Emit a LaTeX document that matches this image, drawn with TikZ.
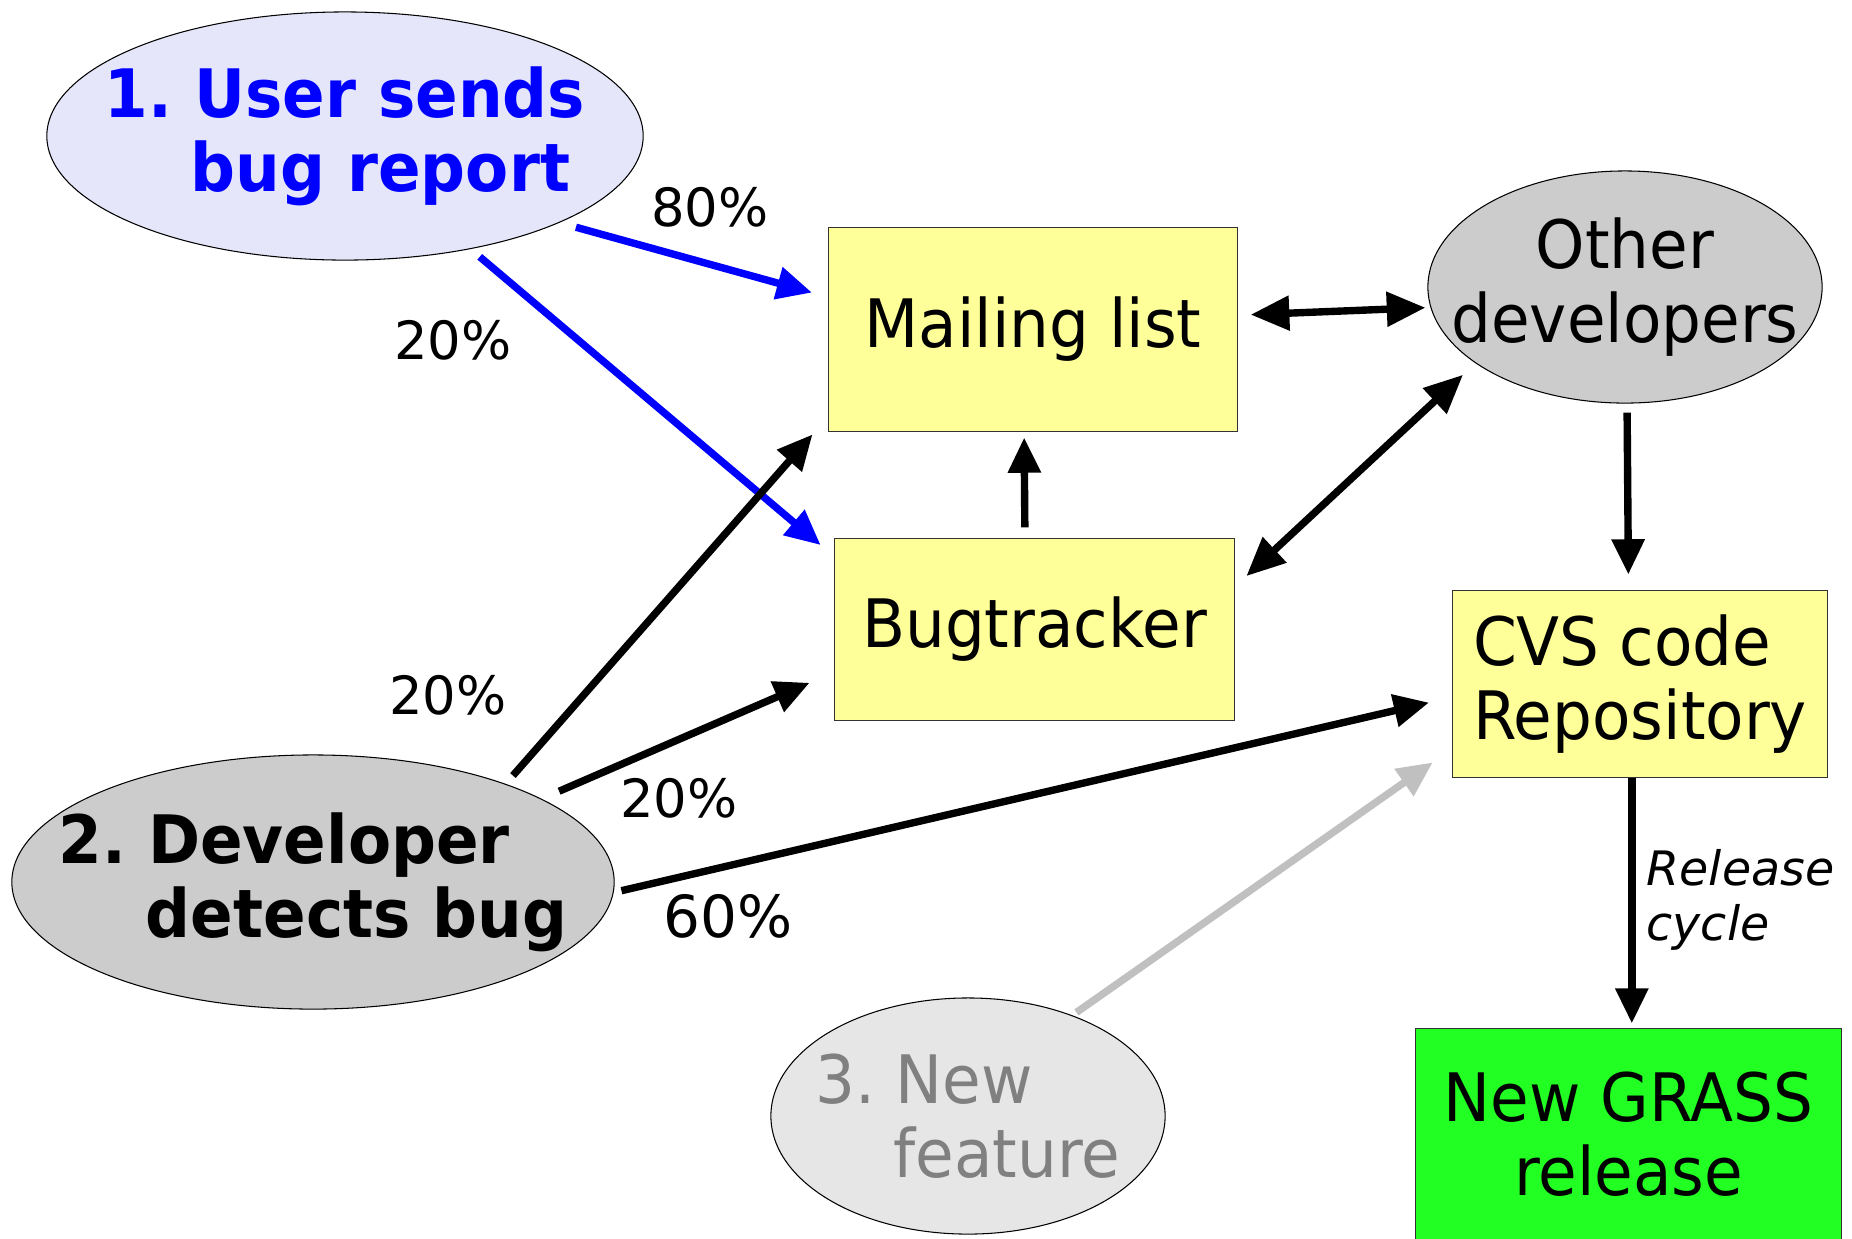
\documentclass[tikz,border=0pt]{standalone}
\usepackage{fontspec}
\setmainfont{DejaVu Sans}
\newfontfamily\boxfont{DejaVu Sans}[FakeStretch=0.94]
\usetikzlibrary{arrows.meta,shapes.geometric}
\definecolor{lavender}{RGB}{230,230,250}
\definecolor{paleyellow}{RGB}{255,255,153}
\definecolor{devgray}{RGB}{204,204,204}
\definecolor{featgray}{RGB}{230,230,230}
\definecolor{grassgreen}{RGB}{34,255,34}
\definecolor{linkgray}{RGB}{192,192,192}
\frenchspacing
\begin{document}
\begin{tikzpicture}[x=0.01cm, y=-0.01cm,
    box/.style={draw=black!80, line width=0.3pt, fill=paleyellow, inner sep=0pt,
                font=\boxfont\fontsize{19}{21}\selectfont},
    blob/.style={ellipse, draw=black, line width=0.3pt, inner ysep=0pt,
                 font=\boxfont\fontsize{19}{21}\selectfont},
    stepfont/.style={font=\boxfont\bfseries\fontsize{19}{21}\selectfont},
    pct/.style={inner sep=0pt, font=\fontsize{15}{18}\selectfont},
    flow/.style={line width=2.1pt, -{Triangle[length=10pt,width=9pt]}},
    both/.style={line width=2.1pt, {Triangle[length=11pt,width=9.5pt]}-{Triangle[length=11pt,width=9.5pt]}}]
\useasboundingbox (0,0) rectangle (1852,1238);
\node[blob, stepfont, fill=lavender, text=blue, minimum width=5.96cm, minimum height=2.48cm,
      inner xsep=-0.4cm, align=left] (user) at (345,136) {1. User sends\\\hspace*{0.86cm}bug report};
\node[blob, stepfont, fill=devgray, minimum width=6.02cm, minimum height=2.54cm,
      inner xsep=-0.5cm, align=left] (dev) at (313,882) {2. Developer\\\hspace*{0.87cm}detects bug};
\node[blob, fill=featgray, text=gray, minimum width=3.94cm, minimum height=2.36cm,
      inner xsep=-0.2cm, align=left] (feat) at (968,1116) {3. New\\\hspace*{0.78cm}feature};
\node[blob, fill=devgray, minimum width=3.94cm, minimum height=2.32cm,
      inner xsep=-0.4cm, align=center] (other) at (1625,287) {Other\\developers};
\node[box, minimum width=4.08cm, minimum height=2.03cm] (mail) at (1033,329.5) {Mailing list};
\node[box, minimum width=3.99cm, minimum height=1.81cm] (bug) at (1034.5,629.5) {Bugtracker};
\node[box, minimum width=3.74cm, minimum height=1.86cm, align=left] (cvs) at (1640,684) {CVS code\\Repository};
\node[box, fill=grassgreen, minimum width=4.25cm, minimum height=2.11cm, align=center]
      (rel) at (1628.5,1134.5) {New GRASS\\release};
\draw[flow, blue, shorten <=0.17cm, shorten >=0.17cm] (user.-22.4) -- (mail.171.6);
\draw[flow, blue, shorten <=0.12cm, shorten >=0.18cm] (user.-42.9) -- (bug.160.2);
\draw[flow, shorten <=0.11cm, shorten >=0.24cm] (dev.27.8) -- (mail.-157.7);
\draw[flow, shorten <=0.19cm, shorten >=0.27cm] (dev.20.8) -- (bug.192.5);
\draw[flow, shorten <=0.08cm, shorten >=0.24cm] (dev.-2.7) -- (cvs.184.7);
\draw[flow, shorten <=0.11cm, shorten >=0.06cm] (bug.96) -- (mail.265.5);
\draw[both, shorten <=0.13cm, shorten >=0.05cm] (mail.4.2) -- (other.186.5);
\draw[both, shorten <=0.16cm, shorten >=0.17cm] (bug.12.3) -- (other.207.7);
\draw[flow, shorten <=0.09cm, shorten >=0.16cm] (other.-89) -- (cvs.97.4);
\draw[flow, shorten >=0.05cm] (cvs.265.7) -- (cvs.265.7 |- rel.north);
\draw[flow, linkgray, shorten <=0.05cm, shorten >=0.24cm] (feat.44.5) -- (cvs.199.7);
\node[pct] (p80) at (710,207) {80\%};
\node[pct] (p20a) at (453,340) {20\%};
\node[pct] (p20b) at (448,695) {20\%};
\node[pct] (p20c) at (679,798) {20\%};
\node[pct, font=\fontsize{16.5}{19}\selectfont] (p60) at (728,916) {60\%};
\node[inner sep=0pt, anchor=north west, align=left, font=\itshape\fontsize{13.5}{15.5}\selectfont]
      (cycle) at (1646,849) {Release\\cycle};
\end{tikzpicture}
\end{document}
